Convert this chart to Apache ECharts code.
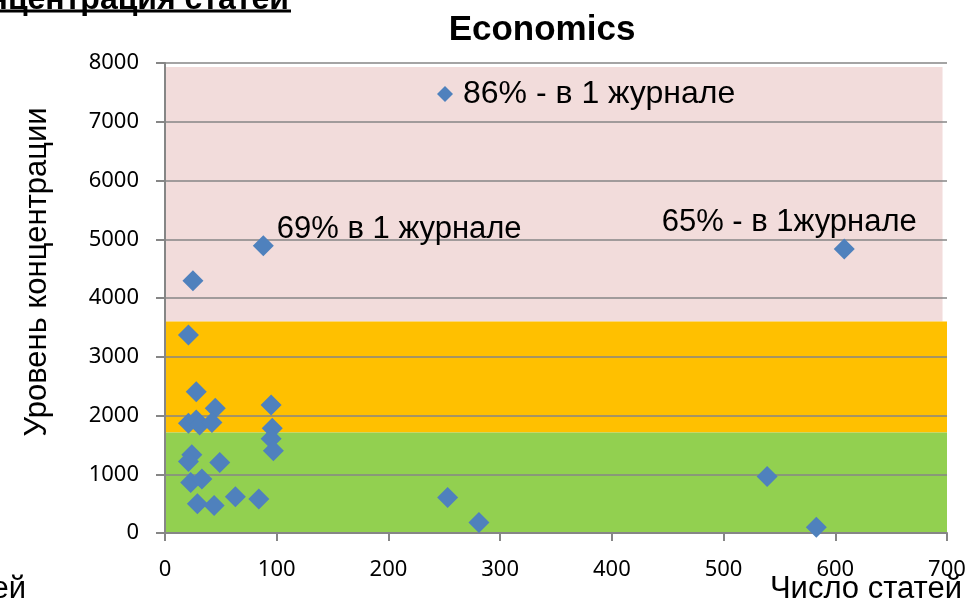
<!DOCTYPE html>
<html>
<head>
<meta charset="utf-8">
<script src="https://cdn.jsdelivr.net/npm/echarts@6/dist/echarts.min.js"></script>
<style>
html,body{margin:0;padding:0;background:#fff;}
#chart{width:974px;height:604px;}
</style>
</head>
<body>
<div id="chart"></div>
<script>
// ---- data ----
var titleText = 'Economics';
var seriesName = '86% - в 1 журнале';
var xName = 'Число статей';
var yName = 'Уровень концентрации';
var xTicks = [0, 100, 200, 300, 400, 500, 600, 700];
var yTicks = [0, 1000, 2000, 3000, 4000, 5000, 6000, 7000, 8000];
// articles count
var articles = [88, 608, 25, 21, 28, 45, 95, 21, 28, 31, 42, 96, 95, 97, 24, 21, 49, 23, 33, 29, 44, 63, 84, 253, 281, 539, 583];
// concentration level
var concentration = [4890, 4835, 4295, 3370, 2405, 2125, 2180, 1870, 1925, 1840, 1880, 1785, 1605, 1400, 1330, 1215, 1200, 860, 920, 500, 470, 615, 580, 605, 180, 960, 100];
// point annotations
var noteIndex = [0, 1];
var noteText = ['69% в 1 журнале', '65% - в 1журнале'];
// background zones (concentration ranges)
var zoneFrom = [3600, 1710, 0];
var zoneTo = [7930, 3600, 1710];
var zoneXFrom = [0, -3.5, 0];
var zoneXTo = [696, 700, 700];
var zoneColor = ['#F2DCDB', '#FFC000', '#92D050'];
// cut-off texts from neighbouring slide content
var topCutText = 'Концентрация статей';
var bottomCutText = 'статей';

var SANS = "'Liberation Sans', Arial, sans-serif";
var TICKF = "'Noto Sans', 'Open Sans', sans-serif";

var chart = echarts.init(document.getElementById('chart'), null, {renderer: 'canvas'});

var data = articles.map(function (x, i) {
  var item = {value: [x, concentration[i]]};
  var k = noteIndex.indexOf(i);
  if (k >= 0) {
    item.label = k === 0
      ? {show: true, formatter: noteText[k], position: 'right', distance: 3, offset: [0, -16]}
      : {show: true, formatter: noteText[k], position: 'top', distance: 0, offset: [-55, 0]};
  }
  return item;
});

var areas = zoneFrom.map(function (f, i) {
  return [
    {xAxis: zoneXFrom[i], yAxis: f, itemStyle: {color: zoneColor[i], opacity: 1}},
    {xAxis: zoneXTo[i], yAxis: zoneTo[i]}
  ];
});

var axisGray = '#868686';

var option = {
  animation: false,
  title: {
    text: titleText,
    left: 537, textAlign: 'center', top: 8,
    textStyle: {fontFamily: SANS, fontSize: 35, fontWeight: 'bold', color: '#000'}
  },
  legend: {
    data: [seriesName],
    left: 437, top: 78, padding: 0,
    icon: 'diamond', itemWidth: 16, itemHeight: 16,
    textStyle: {fontFamily: SANS, fontSize: 32, color: '#000', padding: [0, 0, 0, 5]}
  },
  grid: {left: 165, right: 27, top: 63, bottom: 71, containLabel: false, outerBoundsMode: 'none'},
  xAxis: {
    type: 'value', min: xTicks[0], max: xTicks[xTicks.length - 1], interval: 100,
    z: 2,
    name: xName, nameLocation: 'end', nameGap: 15, nameMoveOverlap: false,
    nameTextStyle: {fontFamily: SANS, fontSize: 31, color: '#000', align: 'right', verticalAlign: 'top', padding: [41, 0, 0, 0]},
    axisLine: {show: true, lineStyle: {color: axisGray, width: 2}},
    axisTick: {show: true, length: 8, lineStyle: {color: axisGray, width: 2}},
    axisLabel: {margin: 26, fontFamily: TICKF, fontSize: 22, color: '#000', formatter: function (v) { return String(v); }},
    splitLine: {show: false}
  },
  yAxis: {
    type: 'value', min: yTicks[0], max: yTicks[yTicks.length - 1], interval: 1000,
    z: 2,
    name: yName, nameLocation: 'middle', nameGap: 112, nameMoveOverlap: false,
    nameTextStyle: {fontFamily: SANS, fontSize: 31, color: '#000', padding: [0, 0, 0, 52]},
    axisLine: {show: true, lineStyle: {color: axisGray, width: 2}},
    axisTick: {show: true, length: 9, lineStyle: {color: axisGray, width: 2}},
    axisLabel: {margin: 26, fontFamily: TICKF, fontSize: 22, color: '#000', formatter: function (v) { return String(v); }},
    splitLine: {show: true, lineStyle: {color: axisGray, width: 1.5}}
  },
  series: [{
    name: seriesName,
    type: 'scatter',
    z: 3,
    clip: false,
    symbol: 'diamond',
    symbolSize: 21,
    itemStyle: {color: '#4F81BD', opacity: 1},
    label: {fontFamily: SANS, fontSize: 31, color: '#000'},
    data: data,
    markArea: {silent: true, z: 1, data: areas}
  }],
  graphic: [
    {
      type: 'text', x: 289, y: 16, silent: true,
      style: {text: topCutText, align: 'right', verticalAlign: 'bottom', font: "bold 32px " + SANS, fill: '#000'}
    },
    {
      type: 'rect', shape: {x: 0, y: 9.5, width: 291, height: 3}, silent: true,
      style: {fill: '#000'}
    },
    {
      type: 'text', x: 26, y: 574, silent: true,
      style: {text: bottomCutText, align: 'right', verticalAlign: 'top', font: "31px " + SANS, fill: '#000'}
    }
  ]
};
chart.setOption(option);
</script>
</body>
</html>
